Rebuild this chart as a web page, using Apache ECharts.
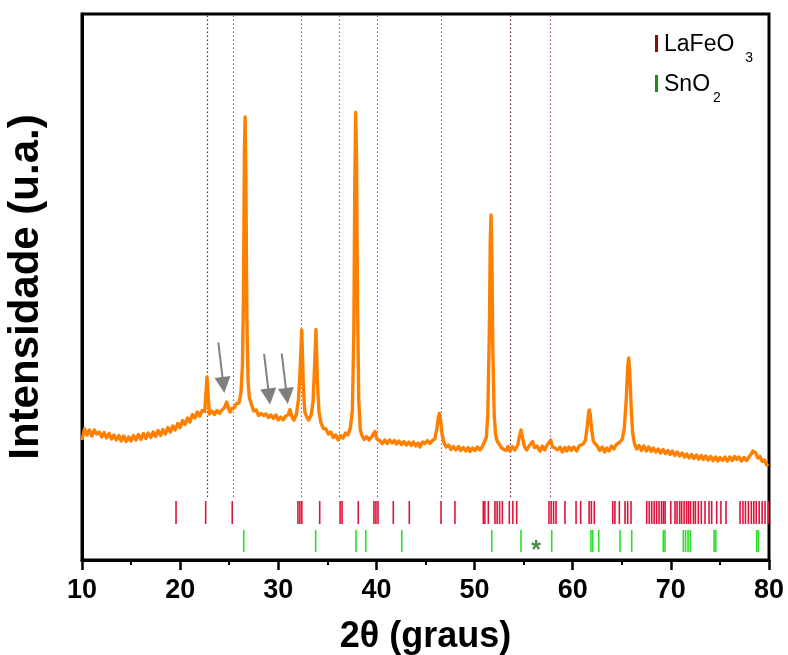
<!DOCTYPE html>
<html>
<head>
<meta charset="utf-8">
<title>DRX LaFeO3 / SnO2</title>
<script src="https://cdn.jsdelivr.net/npm/echarts@6/dist/echarts.min.js"></script>
<style>
  html, body { margin: 0; padding: 0; background: #fff; }
  #chart { width: 788px; height: 655px; }
</style>
</head>
<body>
<div id="chart"></div>
<script>
// Diffraction pattern: [2θ (graus), intensidade (u.a.)]
const pattern = [
  [10.00,240],[10.25,262],[10.50,250],[10.75,260],[11.00,248],[11.25,260],[11.50,252],[11.75,256],
  [12.00,246],[12.25,255],[12.50,244],[12.75,253],[13.00,242],[13.25,250],[13.50,240],[13.75,249],
  [14.00,238],[14.25,248],[14.50,237],[14.75,246],[15.00,238],[15.25,249],[15.50,240],[15.75,251],
  [16.00,241],[16.25,253],[16.50,243],[16.75,254],[17.00,245],[17.25,256],[17.50,247],[17.75,259],
  [18.00,249],[18.25,261],[18.50,252],[18.75,265],[19.00,256],[19.25,268],[19.50,260],[19.75,273],
  [20.00,265],[20.25,279],[20.50,271],[20.75,284],[21.00,276],[21.25,291],[21.50,284],[21.75,296],
  [22.00,288],[22.25,299],[22.50,297],[22.62,330],[22.74,366],[22.86,325],[23.00,292],[23.25,298],
  [23.50,291],[23.75,299],[24.00,293],[24.25,300],[24.50,304],[24.74,316],[24.95,302],[25.10,296],
  [25.25,303],[25.50,304],[25.75,313],[26.00,314],[26.20,335],[26.35,390],[26.45,520],[26.55,820],
  [26.62,886],[26.70,760],[26.80,480],[26.92,360],[27.05,325],[27.30,309],[27.50,298],[27.75,300],
  [28.00,289],[28.25,293],[28.50,289],[28.75,292],[29.00,285],[29.25,290],[29.50,283],[29.75,290],
  [30.00,280],[30.25,286],[30.50,280],[30.75,288],[31.00,290],[31.19,301],[31.40,286],[31.60,280],
  [31.85,292],[32.05,320],[32.20,370],[32.39,460],[32.55,350],[32.70,296],[32.90,286],[33.10,280],
  [33.35,290],[33.55,318],[33.70,390],[33.84,461],[34.00,350],[34.15,296],[34.35,274],[34.60,263],
  [34.85,262],[35.10,252],[35.35,256],[35.60,245],[35.85,250],[36.10,240],[36.35,249],[36.60,244],
  [36.85,254],[37.10,250],[37.35,265],[37.55,300],[37.70,460],[37.80,760],[37.89,895],[37.98,790],
  [38.08,500],[38.20,320],[38.35,262],[38.50,250],[38.75,241],[39.00,247],[39.25,240],[39.50,246],
  [39.70,249],[39.86,257],[40.05,242],[40.37,238],[40.60,233],[40.85,240],[41.10,233],[41.35,240],
  [41.60,234],[41.85,239],[42.07,232],[42.30,238],[42.55,231],[42.80,237],[43.05,230],[43.30,236],
  [43.55,229],[43.76,236],[44.00,228],[44.25,234],[44.44,226],[44.70,236],[44.95,233],[45.20,239],
  [45.45,233],[45.70,239],[45.95,242],[46.15,262],[46.30,285],[46.41,293],[46.55,278],[46.70,250],
  [46.90,234],[47.10,226],[47.35,230],[47.60,221],[47.84,227],[48.10,220],[48.35,227],[48.60,219],
  [48.85,225],[49.10,218],[49.35,225],[49.54,217],[49.80,224],[50.05,219],[50.30,226],[50.55,220],
  [50.80,227],[51.00,230],[51.20,245],[51.35,290],[51.50,450],[51.60,640],[51.68,690],[51.76,620],
  [51.86,420],[52.00,290],[52.15,250],[52.30,238],[52.50,234],[52.75,224],[52.93,228],[53.20,219],
  [53.40,227],[53.61,218],[53.85,227],[54.10,220],[54.40,230],[54.55,245],[54.73,260],[54.90,243],
  [55.10,226],[55.31,220],[55.55,228],[55.75,231],[55.92,237],[56.10,225],[56.35,228],[56.67,218],
  [56.90,228],[57.15,220],[57.40,230],[57.60,233],[57.76,240],[57.95,226],[58.20,224],[58.45,220],
  [58.71,226],[58.95,216],[59.20,225],[59.39,218],[59.60,226],[59.85,219],[60.10,226],[60.41,218],
  [60.65,228],[60.85,224],[61.08,232],[61.30,240],[61.50,270],[61.62,295],[61.69,300],[61.78,292],
  [61.92,262],[62.10,238],[62.27,233],[62.50,228],[62.75,219],[63.00,226],[63.25,216],[63.46,224],
  [63.70,218],[63.95,228],[64.20,222],[64.45,231],[64.65,228],[64.82,236],[65.05,242],[65.25,262],
  [65.45,320],[65.60,385],[65.70,404],[65.80,380],[65.95,310],[66.10,255],[66.30,232],[66.52,222],
  [66.75,229],[67.00,219],[67.25,228],[67.50,218],[67.75,226],[68.00,217],[68.21,224],[68.45,216],
  [68.70,222],[68.95,214],[69.20,221],[69.45,213],[69.70,219],[69.91,211],[70.15,218],[70.40,209],
  [70.65,216],[70.90,208],[71.15,214],[71.40,206],[71.62,212],[71.85,204],[72.10,211],[72.35,203],
  [72.60,210],[72.85,202],[73.10,209],[73.31,201],[73.55,208],[73.80,200],[74.05,207],[74.30,199],
  [74.55,206],[74.80,198],[75.00,205],[75.25,199],[75.50,206],[75.75,198],[76.00,206],[76.25,199],
  [76.50,207],[76.71,201],[76.95,206],[77.20,198],[77.45,205],[77.73,199],[78.00,207],[78.20,212],
  [78.35,218],[78.51,221],[78.65,214],[78.85,204],[79.08,207],[79.30,197],[79.55,200],[79.75,190],
  [79.93,192]
];

// Reference reflection positions (2θ)
const lafeo3Peaks = [
  19.58, 22.60, 25.31, 32.00, 32.20, 32.40, 34.22, 36.30, 36.50, 38.15, 39.75, 39.95, 40.16,
  41.72, 43.35, 46.58, 48.00, 50.89, 51.05, 51.40, 52.08, 52.30, 52.55, 52.83, 53.54, 53.90,
  54.29, 57.58, 57.80, 58.05, 58.30, 59.21, 60.34, 60.81, 61.67, 61.90, 62.20, 64.08, 64.30,
  64.75, 65.33, 65.60, 65.94, 67.54, 67.80, 68.05, 68.30, 68.55, 68.80, 69.05, 69.25, 69.41,
  69.99, 70.42, 70.63, 70.90, 71.10, 71.35, 71.60, 71.80, 72.00, 72.30, 72.50, 72.80, 73.10,
  73.48, 73.89, 74.16, 74.67, 75.10, 75.62, 77.05, 77.35, 77.60, 77.90, 78.20, 78.45, 78.70,
  79.00, 79.30, 79.60, 79.93
];
const sno2Peaks = [
  26.48, 33.81, 37.92, 38.91, 42.58, 51.75, 54.73, 57.86, 61.86, 62.04, 62.65, 64.82, 66.01,
  69.23, 69.40, 71.27, 71.50, 71.75, 71.98, 74.40, 74.58, 78.75, 78.91
];

// Guide lines through selected reflections
const guideDark = [22.77, 53.68];
const guideLight = [25.42, 32.39, 36.19, 40.06, 46.58, 57.76];

// Arrows pointing at minor reflections: [[2θ, I] tail, [2θ, I] head]
const arrows = [
  [[23.89, 435], [24.41, 350]],
  [[28.55, 412], [29.07, 327]],
  [[30.35, 413], [30.87, 328]]
];

// Unindexed reflection marker
const starMark = [[56.26, 30]];

const xTicks = [10, 20, 30, 40, 50, 60, 70, 80];

const Y_MAX = 1092;
const GUIDE_BOTTOM = 126;
const LA_TOP = 118, LA_BOTTOM = 72;
const SN_TOP = 60, SN_BOTTOM = 16;

function tickSeries(name, positions, top, bottom, color) {
  return {
    name: name,
    type: 'custom',
    data: positions.map(p => [p]),
    silent: true,
    z: 3,
    renderItem: function (params, api) {
      const x = api.value(0);
      const p1 = api.coord([x, top]);
      const p2 = api.coord([x, bottom]);
      return {
        type: 'line',
        shape: { x1: p1[0], y1: p1[1], x2: p2[0], y2: p2[1] },
        style: { stroke: color, lineWidth: 1.6 }
      };
    }
  };
}

function guideLines(list, color) {
  return list.map(x => [
    { coord: [x, GUIDE_BOTTOM], lineStyle: { color: color, width: 1.2, type: [1.5, 2.5] } },
    { coord: [x, Y_MAX] }
  ]);
}

const chart = echarts.init(document.getElementById('chart'));
const font = 'Arial, "Liberation Sans", Helvetica, sans-serif';

const subRich = (padLeft) => ({
  m: { fontFamily: font, fontSize: 23, lineHeight: 26, verticalAlign: 'top', fill: '#000' },
  s: { fontFamily: font, fontSize: 14, lineHeight: 14, padding: [18, 0, 0, padLeft], verticalAlign: 'top', fill: '#000' }
});

chart.setOption({
  animation: false,
  backgroundColor: '#ffffff',
  grid: {
    left: 82, right: 19, top: 14, bottom: 95,
    outerBoundsMode: 'none',
    containLabel: false,
    show: true, borderColor: '#000', borderWidth: 3, backgroundColor: 'transparent'
  },
  xAxis: {
    type: 'value',
    min: xTicks[0],
    max: xTicks[xTicks.length - 1],
    interval: 10,
    name: '2θ (graus)',
    nameLocation: 'middle',
    nameGap: 59,
    nameTextStyle: { fontFamily: font, fontWeight: 'bold', fontSize: 36, color: '#000' },
    axisLine: { show: true, lineStyle: { color: '#000', width: 3 } },
    axisTick: { show: true, inside: false, length: 10, lineStyle: { color: '#000', width: 2.5 } },
    minorTick: { show: true, splitNumber: 2, length: 5, lineStyle: { color: '#000', width: 2 } },
    axisLabel: { margin: 17, fontFamily: font, fontWeight: 'bold', fontSize: 27, color: '#000' },
    splitLine: { show: false }
  },
  yAxis: {
    type: 'value',
    min: 0,
    max: Y_MAX,
    name: 'Intensidade (u.a.)',
    nameLocation: 'middle',
    nameRotate: 90,
    nameGap: 35,
    nameTextStyle: { fontFamily: font, fontWeight: 'bold', fontSize: 42, color: '#000' },
    axisLine: { show: true, lineStyle: { color: '#000', width: 3 } },
    axisTick: { show: false },
    axisLabel: { show: false },
    splitLine: { show: false }
  },
  series: [
    {
      name: 'guias',
      type: 'line',
      data: [],
      silent: true,
      z: 1,
      markLine: {
        silent: true,
        symbol: ['none', 'none'],
        label: { show: false },
        animation: false,
        data: guideLines(guideDark, '#7a1f24').concat(guideLines(guideLight, '#b65a62'))
      }
    },
    tickSeries('LaFeO3', lafeo3Peaks, LA_TOP, LA_BOTTOM, '#dc143c'),
    tickSeries('SnO2', sno2Peaks, SN_TOP, SN_BOTTOM, '#28e028'),
    {
      name: 'amostra',
      type: 'line',
      data: pattern,
      showSymbol: false,
      symbol: 'none',
      z: 5,
      lineStyle: { color: '#ff8000', width: 3.4, join: 'round' }
    },
    {
      name: 'setas',
      type: 'lines',
      coordinateSystem: 'cartesian2d',
      z: 6,
      silent: true,
      symbol: ['none', 'triangle'],
      symbolSize: [13, 16],
      lineStyle: { color: '#7f7f7f', width: 2, opacity: 1, curveness: 0 },
      itemStyle: { color: '#7f7f7f' },
      data: arrows.map(a => ({ coords: a }))
    },
    {
      name: 'asterisco',
      type: 'scatter',
      data: starMark,
      symbolSize: 0,
      silent: true,
      z: 6,
      label: {
        show: true,
        position: 'inside',
        formatter: '*',
        fontFamily: font,
        fontWeight: 'bold',
        fontSize: 25,
        color: '#17701a',
        offset: [0, 6]
      }
    }
  ],
  graphic: [
    { type: 'rect', left: 655, top: 35, shape: { width: 3, height: 17 }, style: { fill: '#8b0a0a' } },
    { type: 'text', left: 664, top: 33, style: { text: '{m|LaFeO}{s|3}', rich: subRich(11) } },
    { type: 'rect', left: 655, top: 75, shape: { width: 3, height: 17 }, style: { fill: '#1f8a1f' } },
    { type: 'text', left: 664, top: 73, style: { text: '{m|SnO}{s|2}', rich: subRich(3) } }
  ]
});
</script>
</body>
</html>
